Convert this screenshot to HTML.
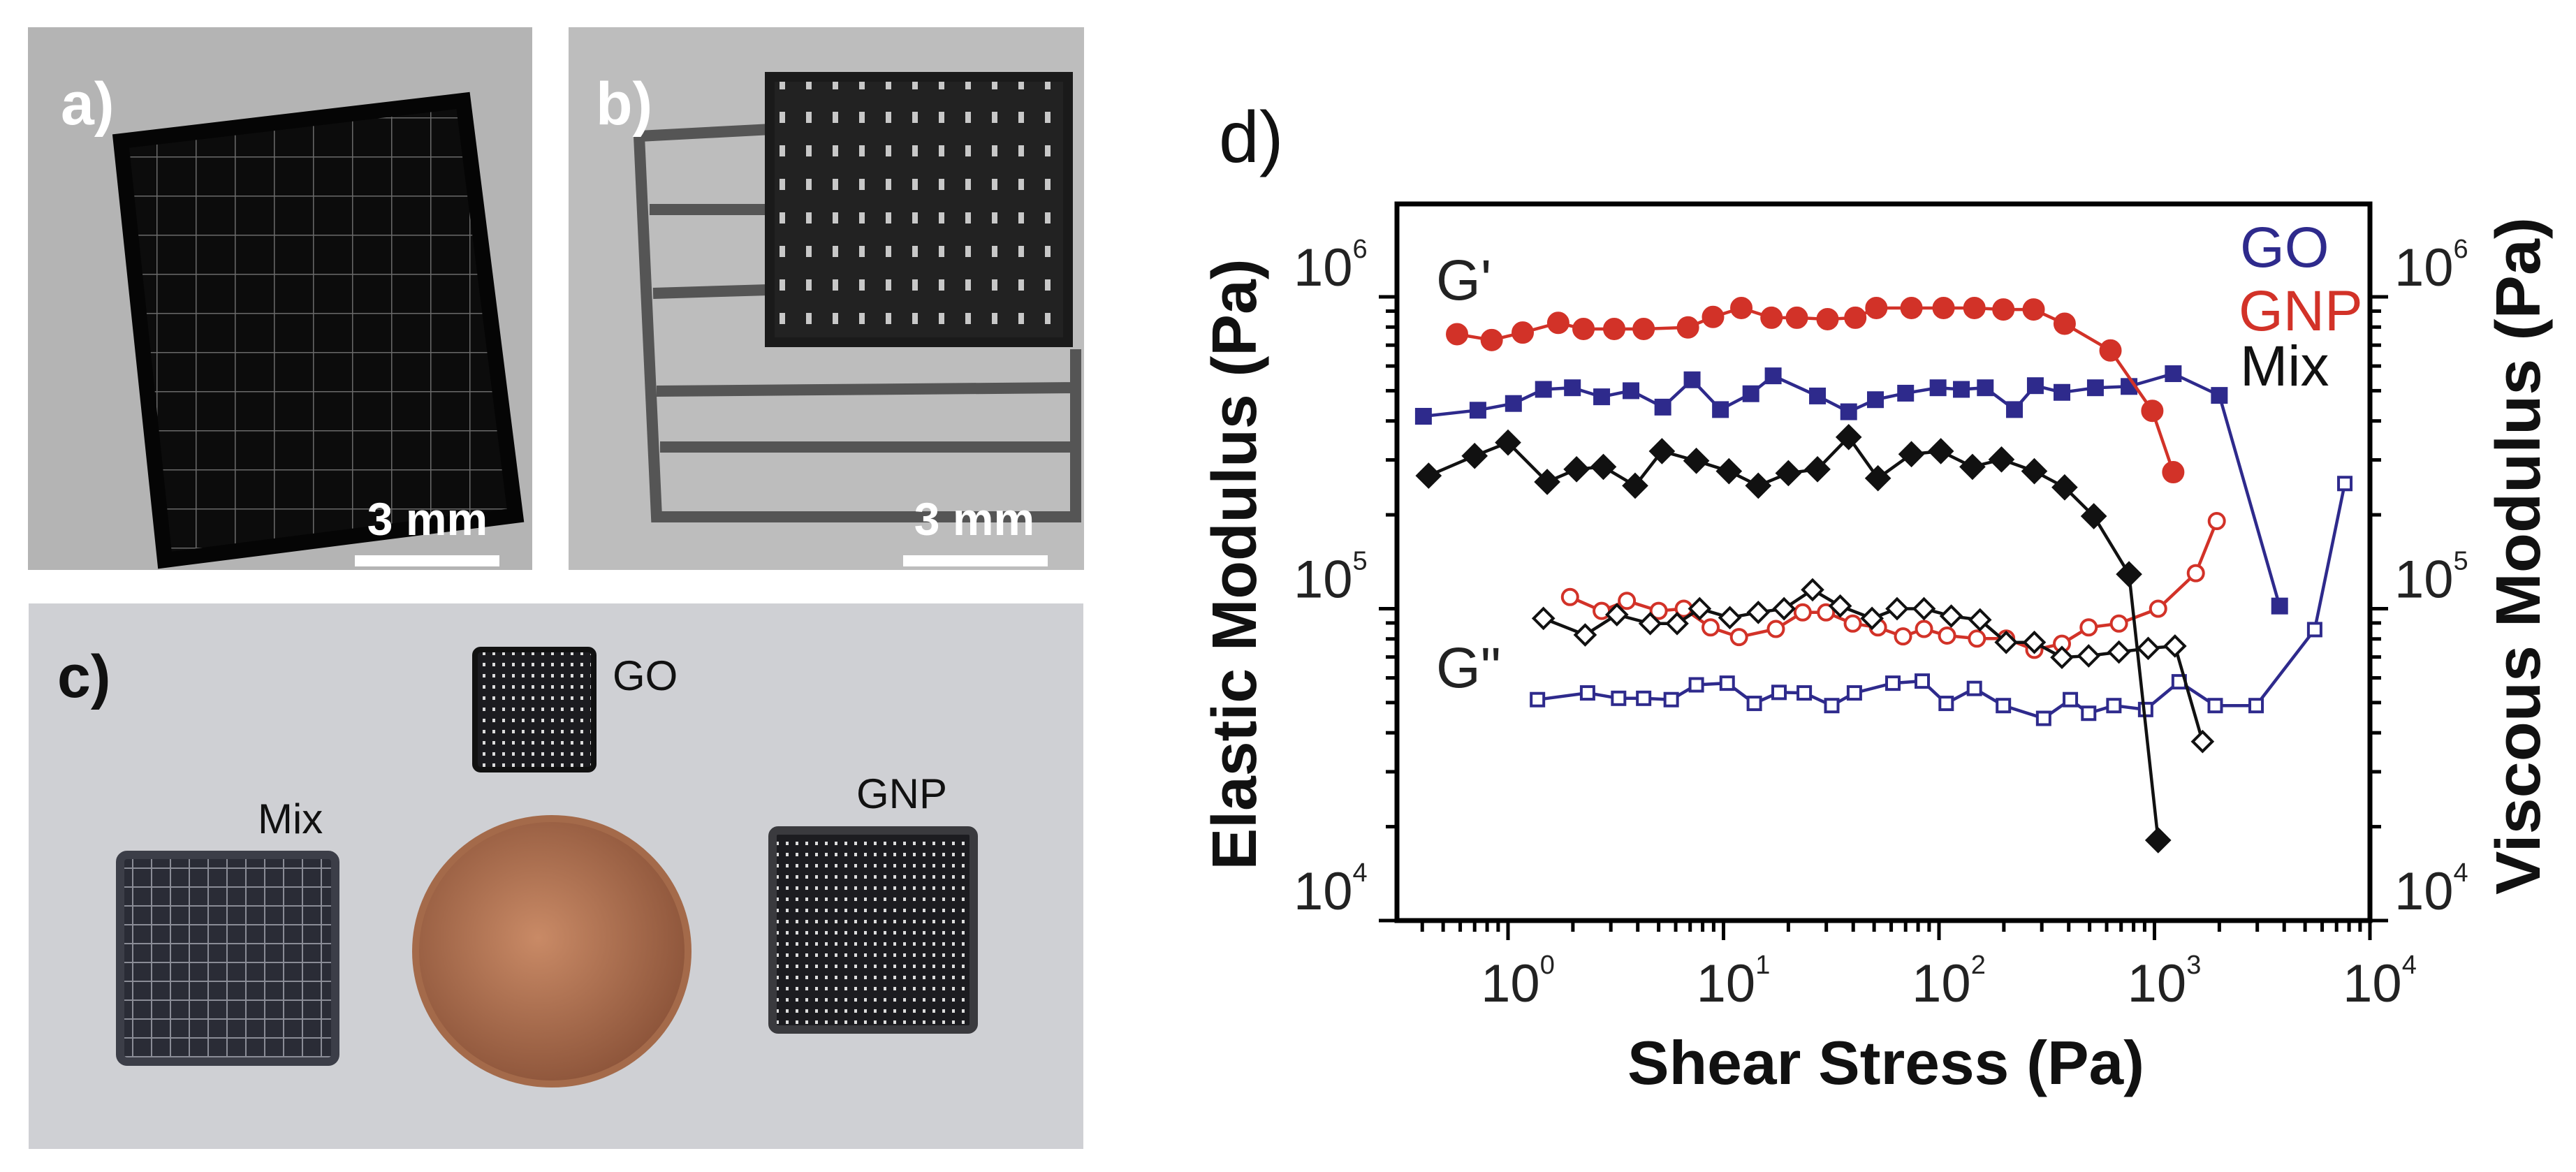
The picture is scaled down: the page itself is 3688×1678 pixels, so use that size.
<!DOCTYPE html>
<html><head><meta charset="utf-8"><style>
html,body{margin:0;padding:0;background:#fff}
svg{display:block;font-family:"Liberation Sans",Arial,sans-serif}
</style></head><body>
<svg id="fig" width="3688" height="1678" viewBox="0 0 3688 1678" xmlns="http://www.w3.org/2000/svg">
<defs>
<pattern id="gridA" width="56" height="56" patternUnits="userSpaceOnUse"><rect width="56" height="56" fill="#0c0c0c"/><path d="M0 0H56M0 0V56" stroke="#6a6a6a" stroke-width="3"/></pattern>
<pattern id="gridB" width="38" height="48" patternUnits="userSpaceOnUse"><rect width="38" height="48" fill="#222"/><rect x="14" y="16" width="8" height="16" fill="#c8c8c8"/></pattern>
<pattern id="gridC" width="27" height="27" patternUnits="userSpaceOnUse"><rect width="27" height="27" fill="#2a2c36"/><path d="M0 0H27M0 0V27" stroke="#8a8c96" stroke-width="4"/></pattern>
<pattern id="gridG" width="14" height="16" patternUnits="userSpaceOnUse"><rect width="14" height="16" fill="#1c1c20"/><rect x="5" y="5" width="4" height="5" fill="#ddd"/></pattern>
<radialGradient id="coin" cx="0.45" cy="0.45" r="0.6"><stop offset="0" stop-color="#c98a66"/><stop offset="1" stop-color="#8a5238"/></radialGradient>
</defs>

<!-- Panel a -->
<g>
<rect x="40" y="39" width="722" height="777" fill="#b4b4b4"/>
<polygon points="173,202 663,144 738,738 236,802" fill="url(#gridA)" stroke="#050505" stroke-width="22"/>
<text x="87" y="178" font-size="86" font-weight="bold" fill="#fff">a)</text>
<text x="612" y="766" font-size="66" font-weight="bold" fill="#fff" text-anchor="middle">3 mm</text>
<rect x="508" y="795" width="207" height="16" fill="#fff"/>
</g>
<!-- Panel b -->
<g>
<rect x="814" y="39" width="738" height="777" fill="#bdbdbd"/>
<g fill="none" stroke="#555" stroke-width="16">
<path d="M915 195 L1105 185 M915 195 L940 740 L1540 740 L1540 500 M940 560 L1540 555 M945 640 L1540 640 M935 420 L1100 415 M930 300 L1100 300"/>
</g>
<rect x="1102" y="110" width="427" height="380" fill="url(#gridB)" stroke="#1a1a1a" stroke-width="14"/>
<text x="853" y="178" font-size="86" font-weight="bold" fill="#fff">b)</text>
<text x="1395" y="766" font-size="66" font-weight="bold" fill="#fff" text-anchor="middle">3 mm</text>
<rect x="1293" y="795" width="207" height="16" fill="#fff"/>
</g>
<!-- Panel c -->
<g>
<rect x="41" y="864" width="1510" height="781" fill="#cfd0d4"/>
<text x="82" y="998" font-size="86" font-weight="bold" fill="#111">c)</text>
<rect x="680" y="930" width="170" height="172" rx="8" fill="url(#gridG)" stroke="#111" stroke-width="8"/>
<text x="877" y="988" font-size="60" fill="#111">GO</text>
<text x="369" y="1193" font-size="60" fill="#111">Mix</text>
<rect x="172" y="1224" width="308" height="296" rx="10" fill="url(#gridC)" stroke="#3c3e48" stroke-width="12"/>
<ellipse cx="790" cy="1362" rx="195" ry="190" fill="url(#coin)" stroke="#a46a4a" stroke-width="10"/>
<text x="1226" y="1157" font-size="60" fill="#111">GNP</text>
<rect x="1106" y="1189" width="288" height="285" rx="8" fill="url(#gridG)" stroke="#3a3a3e" stroke-width="12"/>
</g>

<!-- Chart d -->
<text x="1745" y="232" font-size="104" fill="#111">d)</text>
<g id="chart"></g>
</svg>
<script>
const xDecades = [0, 1, 2, 3, 4];
const yDecades = [4, 5, 6];
const seriesNames = ['GNP G\'', 'GO G\'', 'Mix G\'', 'GNP G"', 'Mix G"', 'GO G"'];

const gnpGpX = [0.58,0.84,1.17,1.71,2.24,3.11,4.26,6.84,8.94,12.1,16.7,21.9,30.4,40.9,51.2,74.5,105,146,199,275,383,625,977,1222];
const gnpGpY = [7.59e5,7.27e5,7.68e5,8.25e5,7.89e5,7.89e5,7.89e5,7.98e5,8.62e5,9.21e5,8.57e5,8.57e5,8.48e5,8.57e5,9.21e5,9.21e5,9.21e5,9.21e5,9.11e5,9.11e5,8.20e5,6.73e5,4.31e5,2.74e5];
const goGpX = [0.405,0.725,1.06,1.46,1.99,2.72,3.72,5.23,7.15,9.68,13.4,17.0,27.3,38.1,50.7,70.0,99,127,164,224,280,372,532,762,1222,2000,3810];
const goGpY = [4.14e5,4.33e5,4.55e5,5.05e5,5.11e5,4.78e5,5.0e5,4.43e5,5.42e5,4.35e5,4.89e5,5.58e5,4.81e5,4.28e5,4.68e5,4.91e5,5.11e5,5.05e5,5.11e5,4.35e5,5.19e5,4.94e5,5.11e5,5.16e5,5.67e5,4.83e5,1.02e5];
const mixGpX = [0.428,0.70,1.0,1.52,2.08,2.77,3.89,5.18,7.48,10.6,14.5,20.0,27.3,38.1,52.1,74.5,102,143,195,277,383,523,762,1040];
const mixGpY = [2.67e5,3.09e5,3.41e5,2.55e5,2.80e5,2.85e5,2.48e5,3.20e5,2.98e5,2.76e5,2.48e5,2.72e5,2.80e5,3.55e5,2.62e5,3.13e5,3.20e5,2.85e5,3.01e5,2.76e5,2.45e5,1.98e5,1.29e5,1.81e4];
const gnpGppX = [1.94,2.72,3.56,5.0,6.54,8.71,11.8,17.5,23.3,29.9,39.8,52.1,68.1,85.2,109,150,205,277,372,495,684,1040,1556,1946];
const gnpGppY = [1.09e5,9.84e4,1.06e5,9.84e4,1.0e5,8.71e4,8.11e4,8.61e4,9.73e4,9.73e4,8.96e4,8.71e4,8.15e4,8.61e4,8.20e4,8.02e4,8.02e4,7.38e4,7.72e4,8.71e4,8.96e4,1.0e5,1.30e5,1.91e5];
const mixGppX = [1.46,2.28,3.20,4.57,6.09,7.75,10.7,14.5,19.1,25.9,34.8,48.9,63.9,85.2,114,155,205,277,372,495,684,935,1245,1672];
const mixGppY = [9.31e4,8.24e4,9.57e4,8.96e4,8.96e4,1.0e5,9.36e4,9.73e4,1.0e5,1.15e5,1.02e5,9.31e4,1.0e5,1.0e5,9.47e4,9.21e4,7.80e4,7.80e4,6.98e4,7.06e4,7.26e4,7.46e4,7.59e4,3.75e4];
const goGppX = [1.37,2.34,3.26,4.26,5.72,7.48,10.4,13.9,18.1,23.7,31.8,40.5,61.1,83.6,108,146,199,306,407,495,648,910,1302,1914,2963,5541,7646];
const goGppY = [5.11e4,5.37e4,5.16e4,5.16e4,5.11e4,5.70e4,5.77e4,4.97e4,5.39e4,5.37e4,4.89e4,5.37e4,5.77e4,5.86e4,4.97e4,5.55e4,4.89e4,4.45e4,5.11e4,4.62e4,4.89e4,4.75e4,5.83e4,4.89e4,4.89e4,8.57e4,2.52e5];

const NS='http://www.w3.org/2000/svg';
const L=2000,R=3393,T=292,B=1318;
const X0=2159, XD=308.5, YD=446.5;
function xs(v){return X0+Math.log10(v)*XD;}
function ys(v){return B-(Math.log10(v)-4)*YD;}
const chart=document.getElementById('chart');
function mk(tag,attrs,parent){const e=document.createElementNS(NS,tag);for(const k in attrs)e.setAttribute(k,attrs[k]);(parent||chart).appendChild(e);return e;}

// ticks
const tg=mk('g',{stroke:'#000','stroke-width':5});


for(let d=-1; d<4; d++){
  for(let m=1;m<10;m++){
    const x=xs(m*Math.pow(10,d));
    if(x<L-1||x>R+1) continue;
    mk('line',{x1:x,x2:x,y1:B,y2:B+(m===1?28:16)},tg);
  }
}
mk('line',{x1:R,x2:R,y1:B,y2:B+28},tg);
for(let d=4; d<7; d++){
  for(let m=1;m<10;m++){
    const y=ys(m*Math.pow(10,d));
    if(y<T-1) continue;
    mk('line',{x1:L,x2:L-(m===1?26:16),y1:y,y2:y},tg);
    mk('line',{x1:R,x2:R+(m===1?26:16),y1:y,y2:y},tg);
  }
}
// frame
const fr=mk('rect',{x:L,y:T,width:R-L,height:B-T,fill:'none',stroke:'#000','stroke-width':7});



// tick labels
function pow10(x,y,e,anchor,name){
  const t=mk('text',{x:x,y:y,'font-size':76,fill:'#222','text-anchor':anchor});
  
  
  const a=document.createElementNS(NS,'tspan');a.textContent='10';t.appendChild(a);
  const b=document.createElementNS(NS,'tspan');b.setAttribute('dy',-40);b.setAttribute('font-size',38);b.textContent=String(e);t.appendChild(b);
}
xDecades.forEach(d=>{pow10(xs(Math.pow(10,d))+14,1434,d,'middle','x-tick-label');});
yDecades.forEach(d=>{
  pow10(1852,ys(Math.pow(10,d))-16,d,'start','left-y-tick-label');
  pow10(3428,ys(Math.pow(10,d))-16,d,'start','right-y-tick-label');
});

// axis titles
let t;
t=mk('text',{x:2700,y:1552,'font-size':88,'font-weight':'bold',fill:'#111','text-anchor':'middle',textLength:740,lengthAdjust:'spacingAndGlyphs'});
t.textContent='Shear Stress (Pa)';


t=mk('text',{x:0,y:0,'font-size':90,'font-weight':'bold',fill:'#111','text-anchor':'middle',textLength:875,lengthAdjust:'spacingAndGlyphs',transform:'translate(1798,808) rotate(-90)'});
t.textContent='Elastic Modulus (Pa)';


t=mk('text',{x:0,y:0,'font-size':90,'font-weight':'bold',fill:'#111','text-anchor':'middle',textLength:970,lengthAdjust:'spacingAndGlyphs',transform:'translate(3636,796) rotate(-90)'});
t.textContent='Viscous Modulus (Pa)';



// annotations & legend
function label(x,y,s,c,name){const e=mk('text',{x:x,y:y,'font-size':82,fill:c});e.textContent=s;
  
  }
label(2056,429,'G\'','#222','g-prime-label');
label(2056,984,'G"','#222','g-double-prime-label');
label(3207,382,'GO','#2e2a8c','legend-go');
label(3205,473,'GNP','#d23228','legend-gnp');
label(3207,552,'Mix','#111','legend-mix');

// series
function series(xsArr,ysArr,color,shape,filled,name){
  const g=mk('g',{});
  
  
  const pts=xsArr.map((v,i)=>xs(v).toFixed(1)+','+ys(ysArr[i]).toFixed(1)).join(' ');
  const pl=mk('polyline',{points:pts,fill:'none',stroke:color,'stroke-width':4.5},g);
  
  
  xsArr.forEach((v,i)=>{
    const cx=xs(v),cy=ys(ysArr[i]);
    const fill=filled?color:'#fff';
    let m;
    if(shape==='circle') m=mk('circle',{cx:cx,cy:cy,r:filled?14:11,fill:fill,stroke:color,'stroke-width':4},g);
    else if(shape==='square'){const s=filled?20:18;m=mk('rect',{x:cx-s/2,y:cy-s/2,width:s,height:s,fill:fill,stroke:color,'stroke-width':4},g);}
    else {const s=filled?16:14;m=mk('polygon',{points:`${cx},${cy-s} ${cx+s},${cy} ${cx},${cy+s} ${cx-s},${cy}`,fill:fill,stroke:color,'stroke-width':4},g);}
    
    
  });
}
series(goGppX,goGppY,'#2e2a8c','square',false,'go-g-double-prime');
series(gnpGppX,gnpGppY,'#d23228','circle',false,'gnp-g-double-prime');
series(mixGppX,mixGppY,'#111','diamond',false,'mix-g-double-prime');
series(goGpX,goGpY,'#2e2a8c','square',true,'go-g-prime');
series(mixGpX,mixGpY,'#111','diamond',true,'mix-g-prime');
series(gnpGpX,gnpGpY,'#d23228','circle',true,'gnp-g-prime');
</script>
</body></html>
